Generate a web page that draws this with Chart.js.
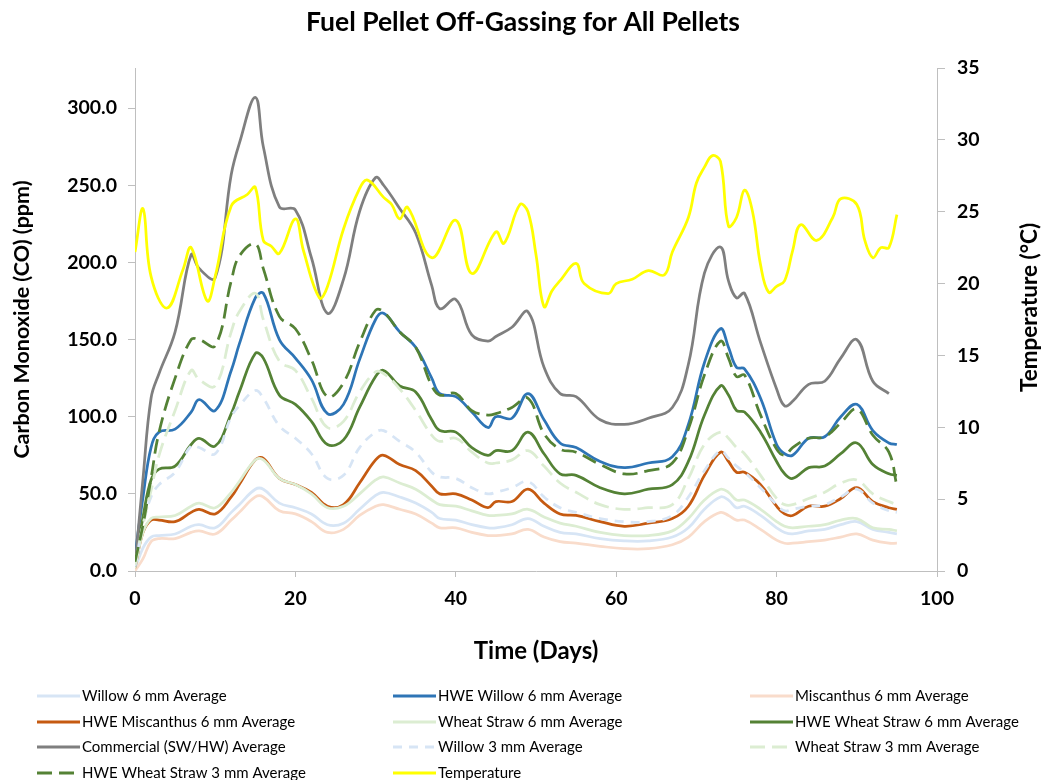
<!DOCTYPE html>
<html>
<head>
<meta charset="utf-8">
<title>Fuel Pellet Off-Gassing for All Pellets</title>
<script src="https://cdn.jsdelivr.net/npm/chart.js@4.4.1/dist/chart.umd.min.js"></script>
<style>
  html, body { margin: 0; padding: 0; background: #ffffff; }
  #wrap { width: 1046px; height: 780px; position: relative; }
</style>
</head>
<body>
<div id="wrap"><canvas id="chart" width="1046" height="780"></canvas></div>
<script>
// Sampling days for the CO readings (ppm)
const coDays = [0,1,2,3,5,7,8,10,12,13,15,16,18,20,22,24,26,28,30,31,33,35,37,38,40,42,44,45,47,49,51,53,55,58,61,64,67,69,71,73,74,75,76,78,80,81,82,84,86,88,90,92,94,95];

const willow6 = [1,15,22,23,24,29,30,28,38,43,53,53,44,41,37,30,31,40,49,51,48,44,38,34,33,30,28,28,30,34,29,25,24,21,19.5,19.5,22,28,40,48,46,41,42,36,28,25,24,26,27,30,32,27,25,24];
const hweWillow6 = [10,48,80,90,92,103,111,104,130,147,177,180,150,138,124,102,108,137,163,167,155,145,125,115,113,103,93,100,99,115,98,83,80,71,67,70,74,95,135,157,145,132,131,112,82,76,75,86,87,100,108,91,83,82];
const miscanthus6 = [0,8,19,21,21,25,26,24,33,38,48,48,39,37,32,25,27,36,42,43,40,37,31,28,28,25,23,23,24,27,22,19,18,16,14.5,14.5,17,22,32,38,36,33,33,27,20,18,18,19,20,22,24,20,18,18];
const hweMiscanthus6 = [2,25,33,33,32,38,40,37,48,56,72,73,60,56,51,42,43,57,72,75,69,65,55,50,50,46,41,45,45,53,44,37,36,32,29,31,34,42,62,77,71,64,64,56,42,37,36,42,42,47,54,45,41,40];
const wheatStraw6 = [2,25,34,35,36,42,44,41,51,58,72,72,60,56,50,41,42,50,59,61,57,53,46,43,42,39,36,36,37,40,35,31,29,25,23,23,26,34,46,53,51,46,46,40,32,29,28,29,30,33,34,28,27,26];
const hweWheatStraw6 = [5,35,59,66,68,82,86,81,102,116,141,138,114,108,97,82,85,106,126,130,120,116,98,91,90,80,75,78,78,90,76,63,62,54,50,53,56,71,101,120,114,104,103,90,71,63,60,67,68,76,83,69,63,62];
const commercial = [3,60,112,128,155,205,196,190,257,277,307,275,236,234,203,167,189,233,255,250,235,219,185,170,176,153,149,152,158,168,132,115,113,98,95,99,106,134,193,210,188,177,180,148,118,107,110,121,123,138,150,123,115,null];
const willow3 = [3,30,48,56,64,81,80,76,100,107,117,112,94,86,76,60,62,80,90,91,84,77,64,61,60,54,50,51,54,58,48,41,38,34,32,32,36,48,65,78,73,68,64,54,43,39,40,42,43,48,53,44,39,38];
const wheatStraw3 = [4,30,52,75,104,130,124,120,155,168,180,163,136,130,112,93,97,116,129,128,118,104,88,84,86,77,70,70,72,78,68,57,51,43,40,41,43,60,82,90,86,80,76,62,47,43,43,47,51,57,59,50,45,43];
const hweWheatStraw3 = [6,30,60,90,125,150,150,146,188,204,212,196,165,157,137,113,122,148,169,168,155,145,120,114,115,104,101,102,106,112,89,79,77,69,63,65,70,92,127,149,138,126,127,101,79,75,80,86,87,96,105,88,77,55];

// Sampling days for the ambient temperature (°C)
const tempDays = [0,1,2,4,6,7,9,10,12,14,15,16,17,18,20,21,23,24,26,28,29,31,32,33,34,37,40,42,45,46,48,49,50,51,52,53,55,56,59,60,62,64,66,67,69,70,71,72,73,74,75,76,77,78,79,80,81,82,83,85,87,88,90,91,92,93,94,95];
const temperature = [22.2,25.2,20.5,18.3,21.0,22.5,18.8,20.5,25.4,26.2,26.7,23.0,22.6,22.1,24.5,22.3,19.0,19.8,23.8,26.6,27.2,26.0,25.5,24.5,25.3,21.8,24.4,20.7,23.6,22.8,25.5,25.0,22.0,18.4,19.5,20.2,21.4,20.0,19.3,20.0,20.3,20.9,20.6,22.2,24.6,27.0,28.1,28.9,28.5,24.0,24.6,26.5,25.0,21.3,19.4,19.8,20.2,22.3,24.1,23.0,24.6,25.9,25.5,23.0,21.8,22.5,22.5,24.8];

// Axis tick settings
const xTicks = { min: 0, max: 100, step: 20 };
const coTicks = { min: 0, max: 326, step: 50 };
const tempTicks = { min: 0, max: 35, step: 5 };

const FONT = 'Lato, "Open Sans", sans-serif';
const LONG_DASH = [15, 7];
const SHORT_DASH = [9, 7];

function pairs(days, values) {
  return days.map((d, i) => ({ x: d, y: values[i] }));
}

const seriesDefs = [
  { label: 'Willow 6 mm Average',            values: willow6,        color: '#d7e5f5', dash: [] },
  { label: 'HWE Willow 6 mm Average',        values: hweWillow6,     color: '#2e75b6', dash: [] },
  { label: 'Miscanthus 6 mm Average',        values: miscanthus6,    color: '#f9dccb', dash: [] },
  { label: 'HWE Miscanthus 6 mm Average',    values: hweMiscanthus6, color: '#c55a11', dash: [] },
  { label: 'Wheat Straw 6 mm Average',       values: wheatStraw6,    color: '#dcedd2', dash: [] },
  { label: 'HWE Wheat Straw 6 mm Average',   values: hweWheatStraw6, color: '#548235', dash: [] },
  { label: 'Commercial (SW/HW) Average',     values: commercial,     color: '#7f7f7f', dash: [] },
  { label: 'Willow 3 mm Average',            values: willow3,        color: '#d7e5f5', dash: SHORT_DASH },
  { label: 'Wheat Straw 3 mm Average',       values: wheatStraw3,    color: '#dcedd2', dash: LONG_DASH },
  { label: 'HWE Wheat Straw 3 mm Average',   values: hweWheatStraw3, color: '#548235', dash: LONG_DASH }
];

const datasets = seriesDefs.map((s, i) => ({
  label: s.label,
  data: pairs(coDays, s.values),
  yAxisID: 'yCO',
  borderColor: s.color,
  backgroundColor: s.color,
  borderDash: s.dash,
  borderWidth: 2.75,
  pointRadius: 0,
  tension: 0.4,
  fill: false,
  spanGaps: false,
  order: 20 - i
}));

datasets.push({
  label: 'Temperature',
  data: pairs(tempDays, temperature),
  yAxisID: 'yT',
  borderColor: '#ffff00',
  backgroundColor: '#ffff00',
  borderDash: [],
  borderWidth: 2.75,
  pointRadius: 0,
  tension: 0.4,
  fill: false,
  order: 0
});

// Three-column legend under the plot
const gridLegend = {
  id: 'gridLegend',
  afterDraw(chart) {
    const ctx = chart.ctx;
    const cols = [37, 393, 750];
    const rows = [696, 722, 747, 773];
    ctx.save();
    ctx.font = '15px ' + FONT;
    ctx.textBaseline = 'middle';
    ctx.textAlign = 'left';
    chart.data.datasets.forEach((ds, i) => {
      const x = cols[i % 3];
      const y = rows[Math.floor(i / 3)];
      ctx.beginPath();
      ctx.setLineDash(ds.borderDash || []);
      ctx.strokeStyle = ds.borderColor;
      ctx.lineWidth = 3;
      ctx.moveTo(x, y);
      ctx.lineTo(x + 43, y);
      ctx.stroke();
      ctx.setLineDash([]);
      ctx.fillStyle = '#000';
      ctx.fillText(ds.label, x + 45, y);
    });
    ctx.restore();
  }
};

// Secondary axis title, read bottom-to-top like the primary one
const rightTitle = {
  id: 'rightTitle',
  afterDraw(chart) {
    const s = chart.scales.yT;
    const ctx = chart.ctx;
    ctx.save();
    ctx.translate(s.right - 16, (s.top + s.bottom) / 2 - 12);
    ctx.rotate(-Math.PI / 2);
    ctx.font = 'bold 22.5px ' + FONT;
    ctx.fillStyle = '#000';
    ctx.textAlign = 'center';
    ctx.textBaseline = 'middle';
    ctx.fillText('Temperature (°C)', 0, 0);
    ctx.restore();
  }
};

Chart.defaults.font.family = FONT;
Chart.defaults.color = '#000';

const axisGray = '#bfbfbf';
const tickFont = { size: 19.5, weight: 'bold' };

new Chart(document.getElementById('chart'), {
  type: 'line',
  data: { datasets },
  plugins: [gridLegend, rightTitle],
  options: {
    responsive: false,
    animation: false,
    events: [],
    layout: { padding: { left: 0, right: 0, top: 0, bottom: 100 } },
    plugins: {
      legend: { display: false },
      tooltip: { enabled: false },
      title: {
        display: true,
        text: 'Fuel Pellet Off-Gassing for All Pellets',
        font: { size: 26.5, weight: 'bold' },
        color: '#000',
        padding: { top: 6.5, bottom: 29.7 }
      }
    },
    scales: {
      x: {
        type: 'linear',
        min: xTicks.min,
        max: xTicks.max,
        afterFit: (s) => { s.height = 109; },
        ticks: { stepSize: xTicks.step, font: tickFont, padding: 10, maxRotation: 0 },
        grid: { drawOnChartArea: false, drawTicks: true, tickLength: 6, color: axisGray },
        border: { display: true, color: axisGray, width: 1 },
        title: { display: true, text: 'Time (Days)', font: { size: 24, weight: 'bold' }, padding: { top: 14, bottom: 14 } }
      },
      yCO: {
        type: 'linear',
        position: 'left',
        min: coTicks.min,
        max: coTicks.max,
        afterFit: (s) => { s.width = 135; },
        afterBuildTicks: (s) => { s.ticks = s.ticks.filter(t => t.value % coTicks.step === 0); },
        ticks: {
          stepSize: coTicks.step,
          font: tickFont,
          padding: 11,
          callback: (v) => Number(v).toFixed(1)
        },
        grid: { drawOnChartArea: false, drawTicks: true, tickLength: 7, color: axisGray },
        border: { display: true, color: axisGray, width: 1 },
        title: { display: true, text: 'Carbon Monoxide (CO) (ppm)', font: { size: 21.5, weight: 'bold' }, padding: { top: 9, bottom: 0 } }
      },
      yT: {
        type: 'linear',
        position: 'right',
        min: tempTicks.min,
        max: tempTicks.max,
        afterFit: (s) => { s.width = 109; },
        ticks: { stepSize: tempTicks.step, font: tickFont, padding: 12 },
        grid: { drawOnChartArea: false, drawTicks: true, tickLength: 8, color: axisGray },
        border: { display: true, color: axisGray, width: 1 },
        title: { display: false }
      }
    }
  }
});
</script>
</body>
</html>
